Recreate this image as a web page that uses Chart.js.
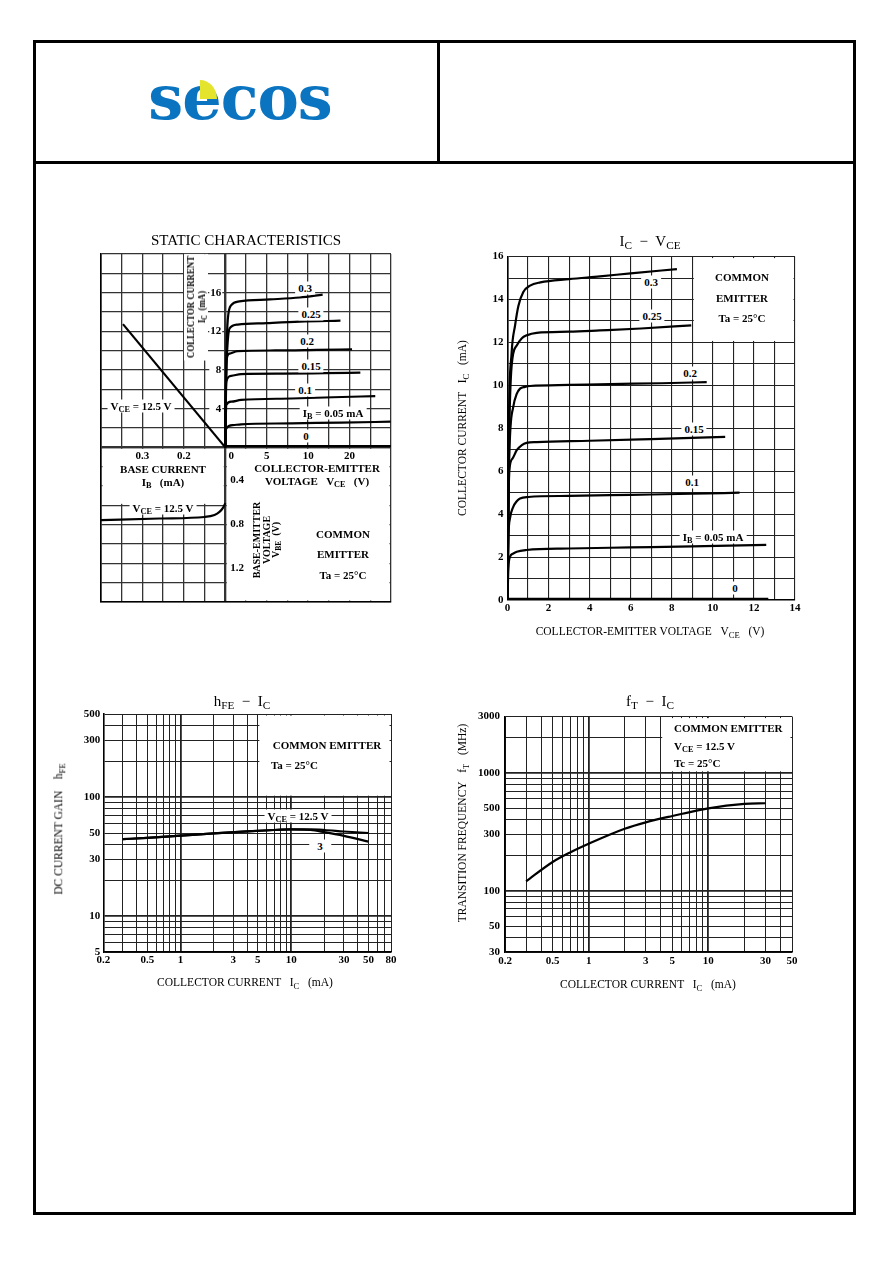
<!DOCTYPE html>
<html>
<head>
<meta charset="utf-8">
<title>SECOS transistor characteristics</title>
<script src="https://cdn.jsdelivr.net/npm/chart.js@4.4.1/dist/chart.umd.min.js"></script>
<style>
  body { margin:0; width:892px; height:1263px; position:relative; background:#fff; overflow:hidden; font-family:"Liberation Serif", serif; color:#000; }
  .frame { position:absolute; border:3px solid #000; box-sizing:border-box; }
  .bar { position:absolute; background:#000; }
  canvas { position:absolute; }
  .t { position:absolute; white-space:nowrap; line-height:1; transform:translate(-50%,-50%); font-size:11px; font-weight:bold; z-index:2; text-align:center; }
  .t.n { font-weight:normal; font-size:11.5px; }
  .t.h { font-weight:normal; font-size:15px; }
  .t.l { transform:translate(0,-50%); text-align:left; }
  .t.r { transform:translate(-50%,-50%) rotate(-90deg); }
  .t.rc { transform:translate(-50%,-50%) rotate(-90deg) scaleX(0.84); font-size:10.5px; line-height:1.05; padding:0 2px; }
  .t.bg { background:#fff; padding:1px 3px; }
  .t.wide { padding:1px 8px; }
  .t.sm { font-size:10px; line-height:0.95; }
  sub { font-size:0.75em; vertical-align:-0.3em; line-height:0; }
  .logo { position:absolute; left:240px; top:98px; transform:translate(-50%,-50%); font-family:"DejaVu Serif", serif; font-weight:bold; font-size:62px; color:#0b74c1; letter-spacing:-1px; line-height:1; }
  .leaf { position:absolute; left:200px; top:80px; width:17px; height:19px; background:#e4e42c; border-top-right-radius:100%; }
</style>
</head>
<body>
<div class="frame" style="left:33px;top:40px;width:823px;height:1175px"></div>
<div class="bar" style="left:33px;top:161px;width:823px;height:3px"></div>
<div class="bar" style="left:437px;top:40px;width:3px;height:123px"></div>
<div class="logo">secos</div>
<div class="leaf"></div>

<canvas id="c1" width="310" height="368" style="left:91px;top:244px"></canvas>
<canvas id="c2" width="345" height="380" style="left:460px;top:246px"></canvas>
<canvas id="c3" width="361" height="274" style="left:40px;top:704px"></canvas>
<canvas id="c4" width="362" height="274" style="left:440px;top:705px"></canvas>

<script>
// ---------- static characteristics (four quadrants) ----------
// upper right: VCE (V) vs IC (mA), one curve per base current
const S_VCE_03 = [0, 0.05, 0.15, 0.3, 0.72, 1.7, 5.4, 9, 11.75];
const S_IC_03 = [0, 5, 10, 13.2, 14.7, 15.1, 15.3, 15.5, 15.8];
const S_VCE_025 = [0, 0.05, 0.15, 0.3, 0.52, 1.5, 5, 9, 13.9];
const S_IC_025 = [0, 4.5, 8.5, 11, 12.3, 12.7, 12.85, 13.0, 13.1];
const S_VCE_02 = [0, 0.05, 0.12, 0.52, 1.5, 6, 11, 15.3];
const S_IC_02 = [0, 4, 8.9, 9.7, 9.96, 10.02, 10.08, 10.14];
const S_VCE_015 = [0, 0.05, 0.12, 0.72, 1.9, 7, 12, 16.3];
const S_IC_015 = [0, 3.5, 6.8, 7.4, 7.58, 7.62, 7.67, 7.72];
const S_VCE_01 = [0, 0.05, 0.12, 0.72, 1.9, 8, 13, 18.1];
const S_IC_01 = [0, 2.5, 4.38, 4.72, 4.9, 5.05, 5.18, 5.3];
const S_VCE_005 = [0, 0.04, 0.12, 0.92, 1.9, 8, 14, 19.96];
const S_IC_005 = [0, 1.2, 1.97, 2.3, 2.38, 2.48, 2.56, 2.65];
const S_VCE_0 = [0, 20];
const S_IC_0 = [0.13, 0.13];
// upper left: IB vs IC at VCE = 12.5 V
const S_DIAG_IB = [0.1, 0.347];
const S_DIAG_IC = [0, 12.75];
// lower left: IB vs VBE
const S_VBE_IB = [0.401, 0.259, 0.15, 0.126, 0.114, 0.106, 0.1];
const S_VBE = [0.764, 0.75, 0.736, 0.718, 0.69, 0.655, 0.61];
// grid and tick labels
const S_GRID_VCE = [-15, -12.5, -10, -7.5, -5, -2.5, 0, 2.5, 5, 7.5, 10, 12.5, 15, 17.5, 20];
const S_GRID_IC = [-16, -14, -12, -10, -8, -6, -4, -2, 0, 2, 4, 6, 8, 10, 12, 14, 16, 18, 20];
const S_VCE_TICKS = ['0', '5', '10', '20'];
const S_VCE_TICK_AT = [0, 5, 10, 15];
const S_IC_TICKS = [4, 8, 12, 16];
const S_IB_TICKS = [0.3, 0.2];
const S_VBE_TICKS = [0.4, 0.8, 1.2];

// ---------- IC - VCE ----------
const I_VCE_03 = [0, 0.06, 0.2, 0.37, 0.53, 0.77, 1.1, 1.6, 3, 4.5, 6, 8.25];
const I_IC_03 = [0, 7.8, 11.5, 12.8, 13.7, 14.35, 14.65, 14.8, 14.95, 15.08, 15.22, 15.42];
const I_VCE_025 = [0, 0.08, 0.2, 0.45, 0.7, 0.93, 1.42, 3, 4.5, 6.5, 8.95];
const I_IC_025 = [0, 7.5, 10.9, 11.86, 12.2, 12.33, 12.45, 12.5, 12.56, 12.65, 12.8];
const I_VCE_02 = [0, 0.08, 0.28, 0.45, 0.61, 0.85, 1.1, 3, 5, 7.5, 9.7];
const I_IC_02 = [0, 6.5, 9.0, 9.6, 9.85, 9.93, 9.97, 10.02, 10.06, 10.1, 10.15];
const I_VCE_015 = [0, 0.05, 0.09, 0.25, 0.45, 0.7, 0.93, 1.42, 4, 7, 10.6];
const I_IC_015 = [0, 4.5, 6.05, 6.6, 6.98, 7.22, 7.32, 7.36, 7.42, 7.5, 7.6];
const I_VCE_01 = [0, 0.05, 0.12, 0.28, 0.45, 0.61, 1.01, 3, 6, 9, 11.3];
const I_IC_01 = [0, 3.0, 3.8, 4.34, 4.6, 4.73, 4.8, 4.85, 4.9, 4.95, 5.0];
const I_VCE_005 = [0, 0.04, 0.12, 0.25, 0.45, 0.93, 3, 6, 9, 12.6];
const I_IC_005 = [0, 1.4, 2.01, 2.15, 2.25, 2.33, 2.4, 2.45, 2.5, 2.57];
const I_VCE_0 = [0, 12.7];
const I_IC_0 = [0.05, 0.05];
const I_GRID_VCE = [0, 1, 2, 3, 4, 5, 6, 7, 8, 9, 10, 11, 12, 13, 14];
const I_GRID_IC = [0, 1, 2, 3, 4, 5, 6, 7, 8, 9, 10, 11, 12, 13, 14, 15, 16];
const I_VCE_TICKS = [0, 2, 4, 6, 8, 10, 12, 14];
const I_IC_TICKS = [0, 2, 4, 6, 8, 10, 12, 14, 16];

// ---------- hFE - IC ----------
const H_IC = [0.3, 0.5, 1, 2, 4, 7, 10, 15, 20, 30, 50];
const H_FE_125 = [44.4, 45.5, 47.5, 49.6, 51.6, 53, 53.6, 53.6, 53, 51.5, 50];
const H_FE_3 = [44.4, 45.5, 47.5, 49.6, 51.6, 53, 53.6, 53, 50.8, 47.3, 42.3];
const H_GRID_X = [0.2, 0.3, 0.4, 0.5, 0.6, 0.7, 0.8, 0.9, 1, 2, 3, 4, 5, 6, 7, 8, 9, 10, 20, 30, 40, 50, 60, 70, 80];
const H_GRID_Y = [5, 6, 7, 8, 9, 10, 20, 30, 40, 50, 60, 70, 80, 90, 100, 200, 300, 400, 500];
const H_TICKS_X = [0.2, 0.5, 1, 3, 5, 10, 30, 50, 80];
const H_TICKS_Y = [5, 10, 30, 50, 100, 300, 500];

// ---------- fT - IC ----------
const F_IC = [0.3, 0.5, 0.7, 1, 2, 3, 5, 10, 20, 30];
const F_T = [120, 175, 211, 250, 335, 380, 430, 500, 545, 552];
const F_GRID_X = [0.2, 0.3, 0.4, 0.5, 0.6, 0.7, 0.8, 0.9, 1, 2, 3, 4, 5, 6, 7, 8, 9, 10, 20, 30, 40, 50];
const F_GRID_Y = [30, 40, 50, 60, 70, 80, 90, 100, 200, 300, 400, 500, 600, 700, 800, 900, 1000, 2000, 3000];
const F_TICKS_X = [0.2, 0.5, 1, 3, 5, 10, 30, 50];
const F_TICKS_Y = [30, 50, 100, 300, 500, 1000, 3000];

const FONT = '"Liberation Serif", serif';
const DECADES = [0.1, 1, 10, 100, 1000];

function pts(xs, ys) { return xs.map((x, i) => ({ x: x, y: ys[i] })); }
function curve(xs, ys, extra) {
  return Object.assign({
    data: pts(xs, ys), borderColor: '#000', borderWidth: 2.2, pointRadius: 0,
    cubicInterpolationMode: 'monotone', fill: false
  }, extra || {});
}
function gridTicks(list) { return s => { s.ticks = list.map(v => ({ value: v })); }; }
function showOnly(list) { return v => list.includes(v) ? String(v) : ''; }
function tickFont() { return { family: FONT, size: 11, weight: 'bold' }; }
function base(padding, scales, blank) {
  return {
    responsive: false, animation: false, events: [],
    layout: { padding: padding },
    plugins: { legend: { display: false }, tooltip: { enabled: false }, blank: { boxes: blank } },
    scales: scales
  };
}

// white areas inside the plot (legend boxes, empty quadrants)
Chart.register({
  id: 'blank',
  beforeDatasetsDraw(chart, args, opts) {
    const ctx = chart.ctx;
    ctx.save();
    ctx.fillStyle = '#fff';
    (opts.boxes || []).forEach(b => {
      const xs = chart.scales[b.xAxis || 'x'], ys = chart.scales[b.yAxis || 'y'];
      const x1 = xs.getPixelForValue(b.x[0]), x2 = xs.getPixelForValue(b.x[1]);
      const y1 = ys.getPixelForValue(b.y[0]), y2 = ys.getPixelForValue(b.y[1]);
      ctx.fillRect(Math.min(x1, x2) + 1.5, Math.min(y1, y2) + 1.5, Math.abs(x2 - x1) - 3, Math.abs(y2 - y1) - 3);
    });
    ctx.restore();
  }
});

// tick labels of the static chart sit along the inner axes
const staticTicks = {
  id: 'staticTicks',
  afterDatasetsDraw(chart) {
    const ctx = chart.ctx, sc = chart.scales;
    const x0 = sc.x.getPixelForValue(0), y0 = sc.y.getPixelForValue(0);
    ctx.save();
    ctx.font = 'bold 11px ' + FONT;
    ctx.textBaseline = 'middle';
    ctx.fillStyle = '#000';
    ctx.textAlign = 'center';
    S_VCE_TICKS.forEach((t, i) => {
      const px = sc.x.getPixelForValue(S_VCE_TICK_AT[i]);
      ctx.fillText(t, i === 0 ? px + 6 : px, y0 + 9);
    });
    S_IB_TICKS.forEach(v => ctx.fillText(String(v), sc.xIB.getPixelForValue(v), y0 + 9));
    ctx.textAlign = 'right';
    S_IC_TICKS.forEach(v => {
      const py = sc.y.getPixelForValue(v);
      ctx.fillStyle = '#fff';
      ctx.fillRect(x0 - 16, py - 6, 13, 12);
      ctx.fillStyle = '#000';
      ctx.fillText(String(v), x0 - 4, py);
    });
    ctx.textAlign = 'left';
    S_VBE_TICKS.forEach(v => ctx.fillText(String(v), x0 + 5, sc.yVBE.getPixelForValue(v)));
    ctx.restore();
  }
};

const zeroWide = c => (c.tick && c.tick.value === 0 ? 2.4 : 1.3);

new Chart(document.getElementById('c1'), {
  type: 'line',
  data: {
    datasets: [
      curve(S_VCE_03, S_IC_03), curve(S_VCE_025, S_IC_025), curve(S_VCE_02, S_IC_02),
      curve(S_VCE_015, S_IC_015), curve(S_VCE_01, S_IC_01), curve(S_VCE_005, S_IC_005),
      curve(S_VCE_0, S_IC_0),
      curve(S_DIAG_IB, S_DIAG_IC, { xAxisID: 'xIB', cubicInterpolationMode: 'default', tension: 0 }),
      curve(S_VBE_IB, S_VBE, { xAxisID: 'xIB', yAxisID: 'yVBE' })
    ]
  },
  options: base({ left: 10, right: 10, top: 10, bottom: 10 }, {
    x: {
      type: 'linear', min: -15, max: 20, afterBuildTicks: gridTicks(S_GRID_VCE),
      afterFit: s => { s.height = 0; }, ticks: { display: false },
      grid: { drawTicks: false, color: '#333', lineWidth: zeroWide }, border: { color: '#000', width: 1.6 }
    },
    y: {
      type: 'linear', min: -16, max: 20, afterBuildTicks: gridTicks(S_GRID_IC),
      afterFit: s => { s.width = 0; }, ticks: { display: false },
      grid: { drawTicks: false, color: '#333', lineWidth: zeroWide }, border: { color: '#000', width: 1.6 }
    },
    xIB: { type: 'linear', display: false, reverse: true, min: -0.3, max: 0.4 },
    yVBE: { type: 'linear', display: false, reverse: true, min: -1.655, max: 1.509 }
  }, [{ x: [0, 20], y: [-16, 0] }, { x: [-15, 0], y: [-6, 0] }]),
  plugins: [staticTicks]
});

new Chart(document.getElementById('c2'), {
  type: 'line',
  data: {
    datasets: [
      curve(I_VCE_03, I_IC_03), curve(I_VCE_025, I_IC_025), curve(I_VCE_02, I_IC_02),
      curve(I_VCE_015, I_IC_015), curve(I_VCE_01, I_IC_01), curve(I_VCE_005, I_IC_005),
      curve(I_VCE_0, I_IC_0, { borderWidth: 2.6 })
    ]
  },
  options: base({ left: 0, right: 10, top: 10, bottom: 10 }, {
    x: {
      type: 'linear', min: 0, max: 14, afterBuildTicks: gridTicks(I_GRID_VCE),
      afterFit: s => { s.height = 16; },
      grid: { drawTicks: false, color: '#222', lineWidth: 1.1 }, border: { color: '#000', width: 1.6 },
      ticks: { autoSkip: false, maxRotation: 0, padding: 2, color: '#000', font: tickFont(), callback: showOnly(I_VCE_TICKS) }
    },
    y: {
      type: 'linear', min: 0, max: 16, afterBuildTicks: gridTicks(I_GRID_IC),
      afterFit: s => { s.width = 47.5; },
      grid: { drawTicks: false, color: '#222', lineWidth: 1.1 }, border: { color: '#000', width: 1.6 },
      ticks: { autoSkip: false, padding: 4, color: '#000', font: tickFont(), callback: showOnly(I_IC_TICKS) }
    }
  }, [{ x: [9, 14], y: [12, 16] }])
});

function logAxis(min, max, grid, labels, fit, pad) {
  return {
    type: 'logarithmic', min: min, max: max, afterBuildTicks: gridTicks(grid), afterFit: fit,
    grid: { drawTicks: false, color: '#222', lineWidth: c => (c.tick && DECADES.includes(c.tick.value) ? 1.8 : 1) },
    border: { color: '#000', width: 1.6 },
    ticks: { autoSkip: false, maxRotation: 0, padding: pad, color: '#000', font: tickFont(), callback: showOnly(labels) }
  };
}

new Chart(document.getElementById('c3'), {
  type: 'line',
  data: { datasets: [curve(H_IC, H_FE_125), curve(H_IC, H_FE_3)] },
  options: base({ left: 0, right: 10, top: 10, bottom: 10 }, {
    x: logAxis(0.2, 80, H_GRID_X, H_TICKS_X, s => { s.height = 16; }, 2),
    y: logAxis(5, 500, H_GRID_Y, H_TICKS_Y, s => { s.width = 63.3; }, 3)
  }, [{ x: [5, 80], y: [100, 500] }])
});

new Chart(document.getElementById('c4'), {
  type: 'line',
  data: { datasets: [curve(F_IC, F_T)] },
  options: base({ left: 0, right: 10, top: 10, bottom: 10.7 }, {
    x: logAxis(0.2, 50, F_GRID_X, F_TICKS_X, s => { s.height = 16; }, 2),
    y: logAxis(30, 3000, F_GRID_Y, F_TICKS_Y, s => { s.width = 65; }, 5)
  }, [{ x: [4, 50], y: [1000, 3000] }])
});

// ---------- page text ----------
const NOTES = [
  // static characteristics
  [246, 240, 'STATIC CHARACTERISTICS', 'h'],
  [196, 307, 'COLLECTOR CURRENT<br>I<sub>C</sub>&nbsp;&nbsp;(mA)', 'rc bg'],
  [141, 406, 'V<sub>CE</sub> = 12.5 V', 'bg'],
  [305, 288, '0.3', 'bg'], [311, 314, '0.25', 'bg'], [307, 341, '0.2', 'bg'],
  [311, 366, '0.15', 'bg'], [305, 390, '0.1', 'bg'],
  [333, 413, 'I<sub>B</sub> = 0.05 mA', 'bg'], [306, 436, '0', 'bg'],
  [317, 468, 'COLLECTOR-EMITTER', ''],
  [317, 481, 'VOLTAGE&nbsp;&nbsp;&nbsp;V<sub>CE</sub>&nbsp;&nbsp;&nbsp;(V)', ''],
  [163, 469, 'BASE CURRENT', ''],
  [163, 482, 'I<sub>B</sub>&nbsp;&nbsp;&nbsp;(mA)', ''],
  [163, 508, 'V<sub>CE</sub> = 12.5 V', 'bg'],
  [266, 540, 'BASE-EMITTER<br>VOLTAGE<br>V<sub>BE</sub>&nbsp;&nbsp;(V)', 'r sm'],
  [343, 534, 'COMMON', ''], [343, 554, 'EMITTER', ''], [343, 575, 'Ta = 25°C', ''],
  // IC - VCE
  [650, 241, 'I<sub>C</sub>&nbsp;&nbsp;−&nbsp;&nbsp;V<sub>CE</sub>', 'h'],
  [463, 428, 'COLLECTOR CURRENT&nbsp;&nbsp;&nbsp;I<sub>C</sub>&nbsp;&nbsp;&nbsp;(mA)', 'n r'],
  [650, 632, 'COLLECTOR-EMITTER VOLTAGE&nbsp;&nbsp;&nbsp;V<sub>CE</sub>&nbsp;&nbsp;&nbsp;(V)', 'n'],
  [742, 277, 'COMMON', ''], [742, 298, 'EMITTER', ''], [742, 318, 'Ta = 25°C', ''],
  [651, 282, '0.3', 'bg'], [652, 316, '0.25', 'bg'], [690, 373, '0.2', 'bg'],
  [694, 429, '0.15', 'bg'], [692, 482, '0.1', 'bg'],
  [713, 537, 'I<sub>B</sub> = 0.05 mA', 'bg'], [735, 588, '0', 'bg'],
  // hFE - IC
  [242, 701, 'h<sub>FE</sub>&nbsp;&nbsp;−&nbsp;&nbsp;I<sub>C</sub>', 'h'],
  [327, 745, 'COMMON EMITTER', ''], [271, 765, 'Ta = 25°C', 'l'],
  [298, 816, 'V<sub>CE</sub> = 12.5 V', 'bg'], [320, 846, '3', 'bg wide'],
  [59, 829, 'DC CURRENT GAIN&nbsp;&nbsp;&nbsp;&nbsp;h<sub>FE</sub>', 'n r'],
  [245, 983, 'COLLECTOR CURRENT&nbsp;&nbsp;&nbsp;I<sub>C</sub>&nbsp;&nbsp;&nbsp;(mA)', 'n'],
  // fT - IC
  [650, 701, 'f<sub>T</sub>&nbsp;&nbsp;−&nbsp;&nbsp;I<sub>C</sub>', 'h'],
  [674, 728, 'COMMON EMITTER', 'l'], [674, 746, 'V<sub>CE</sub> = 12.5 V', 'l'], [674, 763, 'Tc = 25°C', 'l'],
  [463, 823, 'TRANSITION FREQUENCY&nbsp;&nbsp;&nbsp;f<sub>T</sub>&nbsp;&nbsp;&nbsp;(MHz)', 'n r'],
  [648, 985, 'COLLECTOR CURRENT&nbsp;&nbsp;&nbsp;I<sub>C</sub>&nbsp;&nbsp;&nbsp;(mA)', 'n']
];

NOTES.forEach(([x, y, html, cls]) => {
  const d = document.createElement('div');
  d.className = 't ' + cls;
  d.style.left = x + 'px';
  d.style.top = y + 'px';
  d.innerHTML = html;
  document.body.appendChild(d);
});
</script>
</body>
</html>
